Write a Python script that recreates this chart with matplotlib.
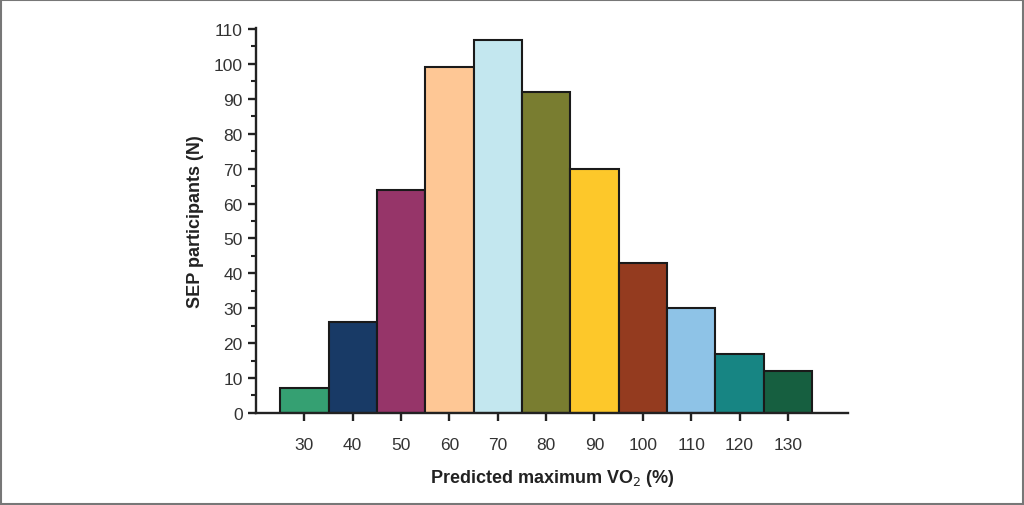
import matplotlib.pyplot as plt
from matplotlib.patches import Rectangle
from matplotlib.ticker import MultipleLocator

# Datos
vo2_pct = [30, 40, 50, 60, 70, 80, 90, 100, 110, 120, 130]
participants = [7, 26, 64, 99, 107, 92, 70, 43, 30, 17, 12]
bar_colors = ['#35a072', '#183a66', '#963569', '#fec795', '#c3e7ef', '#797d30',
              '#fdc82a', '#943b1f', '#8ec3e7', '#178583', '#165f40']

plt.rcParams['font.family'] = ['Liberation Sans', 'DejaVu Sans']

fig = plt.figure(figsize=(10.24, 5.06), dpi=100)
ax = fig.add_axes([0.25, 0.182, 0.578, 0.760])

ax.bar(vo2_pct, participants, width=10, color=bar_colors, edgecolor='#1a1a1a', linewidth=1.5)

ax.set_xlim(20, 142.4)
ax.set_ylim(0, 110.2)
ax.set_xticks(vo2_pct)
ax.yaxis.set_major_locator(MultipleLocator(10))
ax.yaxis.set_minor_locator(MultipleLocator(5))

for s in ['top', 'right']:
    ax.spines[s].set_visible(False)
for s in ['left', 'bottom']:
    ax.spines[s].set_linewidth(1.7)
    ax.spines[s].set_color('#222222')

ax.tick_params(axis='both', which='major', length=6, width=1.7, labelsize=12.5,
               color='#222222', labelcolor='#333333')
ax.tick_params(axis='x', pad=11)
ax.tick_params(axis='y', which='minor', length=3.5, width=1.5, color='#222222')

ax.set_xlabel('Predicted maximum VO$_2$ (%)', fontsize=13, fontweight='bold',
              color='#222222', labelpad=11)
ax.set_ylabel('SEP participants (N)', fontsize=13, fontweight='bold',
              color='#222222', labelpad=7)

# marco gris alrededor de la figura
fig.patches.append(Rectangle((0.001, 0.002), 0.998, 0.996, transform=fig.transFigure,
                             fill=False, edgecolor='#777777', linewidth=1.5))

fig.savefig('out.png', dpi=100)
